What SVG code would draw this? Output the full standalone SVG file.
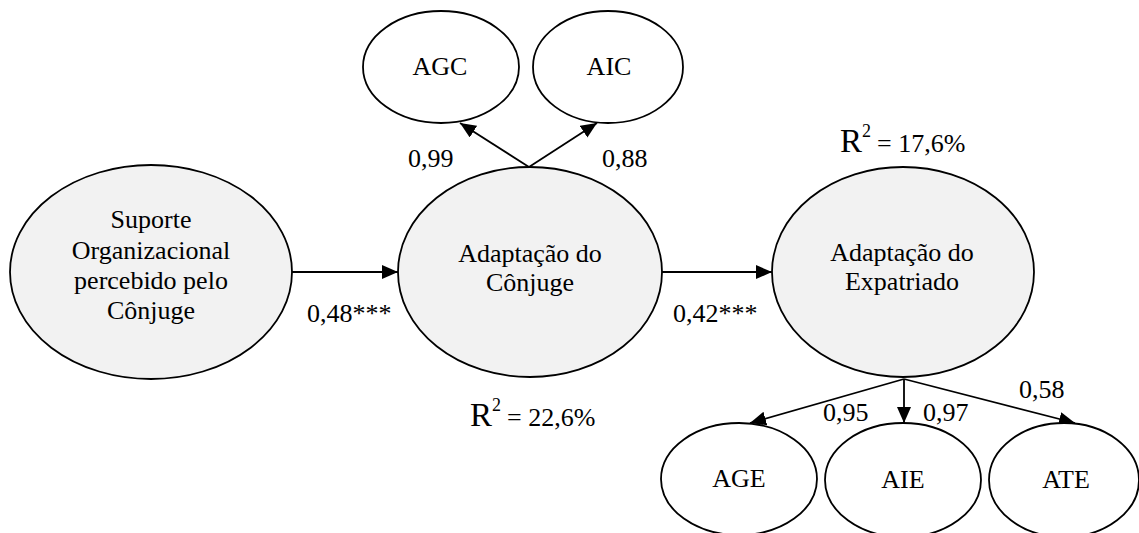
<svg xmlns="http://www.w3.org/2000/svg" width="1139" height="533" viewBox="0 0 1139 533">
<style>
  text { font-family: 'Liberation Serif', 'Times New Roman', Times, 'DejaVu Serif', serif; font-size: 26px; fill: #000; }
  .c { text-anchor: middle; }
  .lat { fill: #f2f2f2; stroke: #000; stroke-width: 1.8; }
  .ind { fill: #fff; stroke: #000; stroke-width: 1.8; }
  .edge { stroke: #000; stroke-width: 1.8; fill: none; marker-end: url(#arrow); }
</style>
<defs>
  <marker id="arrow" markerUnits="userSpaceOnUse" markerWidth="17" markerHeight="15" refX="16" refY="7" orient="auto">
    <path d="M0,0 L16,7 L0,14 Z" fill="#000"/>
  </marker>
</defs>
<rect width="1139" height="533" fill="#fff"/>

<g id="connectors">
  <line class="edge" x1="292" y1="272" x2="398" y2="272"/>
  <line class="edge" x1="662" y1="272" x2="772" y2="272"/>
  <line class="edge" x1="529" y1="167" x2="460" y2="123"/>
  <line class="edge" x1="529" y1="167" x2="597" y2="123"/>
  <line class="edge" x1="904" y1="379" x2="750" y2="423"/>
  <line class="edge" x1="904" y1="379" x2="904" y2="423"/>
  <line class="edge" x1="904" y1="379" x2="1075" y2="423"/>
</g>

<g id="node-suporte">
  <ellipse class="lat" cx="151" cy="272" rx="141" ry="107"/>
  <text class="c" x="151" y="228">Suporte</text>
  <text class="c" x="151" y="259">Organizacional</text>
  <text class="c" x="151" y="289">percebido pelo</text>
  <text class="c" x="151" y="319">Cônjuge</text>
</g>

<g id="node-adapt-conjuge">
  <ellipse class="lat" cx="530" cy="272" rx="132" ry="105"/>
  <text class="c" x="530" y="262">Adaptação do</text>
  <text class="c" x="530" y="291">Cônjuge</text>
</g>

<g id="node-adapt-expatriado">
  <ellipse class="lat" cx="903" cy="272" rx="131" ry="105"/>
  <text class="c" x="902" y="261">Adaptação do</text>
  <text class="c" x="902" y="290">Expatriado</text>
</g>

<g id="node-agc">
  <ellipse class="ind" cx="441" cy="67" rx="78" ry="56"/>
  <text class="c" x="440" y="75">AGC</text>
</g>
<g id="node-aic">
  <ellipse class="ind" cx="608" cy="67" rx="75" ry="56"/>
  <text class="c" x="609" y="75">AIC</text>
</g>
<g id="node-age">
  <ellipse class="ind" cx="739" cy="479" rx="78" ry="56"/>
  <text class="c" x="739" y="487">AGE</text>
</g>
<g id="node-aie">
  <ellipse class="ind" cx="903" cy="480" rx="78" ry="57"/>
  <text class="c" x="903" y="488">AIE</text>
</g>
<g id="node-ate">
  <ellipse class="ind" cx="1064" cy="480" rx="75" ry="57"/>
  <text class="c" x="1066" y="488">ATE</text>
</g>

<g id="labels">
  <text x="307" y="322">0,48***</text>
  <text x="673" y="322">0,42***</text>
  <text x="408" y="167">0,99</text>
  <text x="602" y="167">0,88</text>
  <text x="823" y="421">0,95</text>
  <text x="923" y="421">0,97</text>
  <text x="1019" y="398">0,58</text>
  <text x="470" y="426"><tspan font-size="33">R</tspan><tspan font-size="18" dy="-15">2</tspan><tspan font-size="26" dx="6" dy="15">= 22,6%</tspan></text>
  <text x="840" y="152"><tspan font-size="33">R</tspan><tspan font-size="18" dy="-15">2</tspan><tspan font-size="26" dx="6" dy="15">= 17,6%</tspan></text>
</g>
</svg>
